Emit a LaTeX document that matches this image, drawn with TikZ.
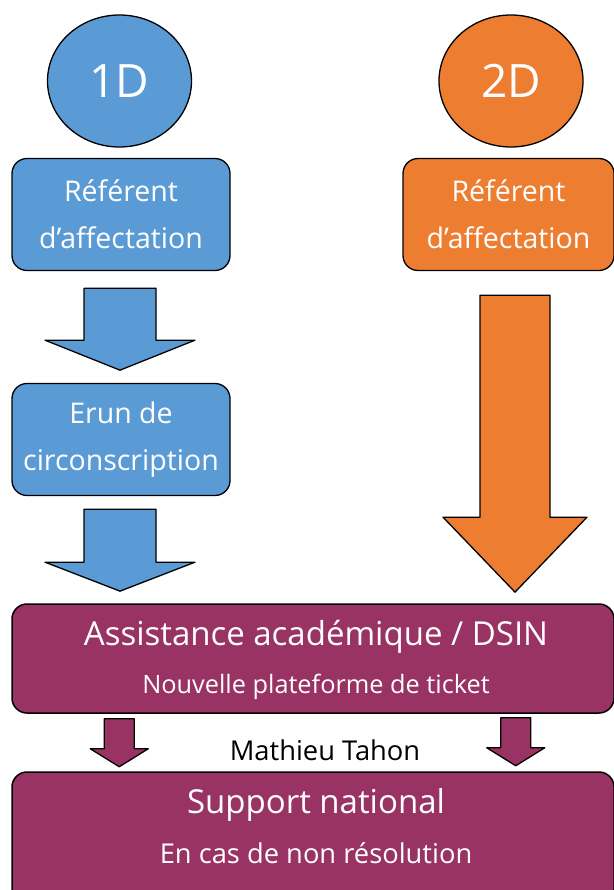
\documentclass[tikz,border=0pt]{standalone}
\usepackage{fontspec}
\setmainfont{Open Sans}
\usetikzlibrary{calc,shapes.geometric}
\definecolor{bleuD}{RGB}{91,155,213}
\definecolor{orangeD}{RGB}{237,125,49}
\definecolor{violetD}{RGB}{153,51,99}
\begin{document}
\begin{tikzpicture}[x=1pt,y=-1pt,line join=round,
	rond/.style={ellipse,draw,line width=1.3pt,minimum width=144pt,minimum height=132pt,text=white,font=\fontsize{46}{46}\selectfont},
	boite/.style={draw,rounded corners=15pt,line width=1.3pt,minimum width=218pt,minimum height=112pt,text=white,align=center,font=\fontsize{28.5}{47}\selectfont},
	grande/.style={draw,rounded corners=15pt,line width=1.5pt,minimum width=602pt,fill=violetD},
	blanc/.style={text=white,anchor=base,inner sep=0pt}]
	\useasboundingbox (0,0) rectangle (613,890);
	% colonnes 1D et 2D
	\node[rond,fill=bleuD] (un) at (119.5,81) {1D};
	\node[rond,fill=orangeD] (deux) at (511,81) {2D};
	\node[boite,fill=bleuD] (ref1) at (121,214.5) {Référent\\d’affectation};
	\node[boite,fill=orangeD,minimum width=211pt] (ref2) at (508.5,214.5) {Référent\\d’affectation};
	\node[boite,fill=bleuD] (erun) at (121,439.5) {Erun de\\circonscription};
	% blocs du bas
	\node[grande,minimum height=109pt] (acad) at (313,658.5) {};
	\node[blanc,font=\fontsize{33}{33}\selectfont] (acad1) at (316,645) {Assistance académique / DSIN};
	\node[blanc,font=\fontsize{25.3}{25.3}\selectfont] (acad2) at (316,693) {Nouvelle plateforme de ticket};
	\node[grande,minimum height=132pt] (nat) at (313,838) {};
	\node[blanc,font=\fontsize{33}{33}\selectfont] (nat1) at (316,813) {Support national};
	\node[blanc,font=\fontsize{27.3}{27.3}\selectfont] (nat2) at (316,863) {En cas de non résolution};
	\node[anchor=base,inner sep=0pt,font=\fontsize{27.3}{27.3}\selectfont] (mt) at (325,760) {Mathieu Tahon};
	% grosses fleches
	\coordinate (f1) at ($(ref1.south)+(-1,17)$);
	\coordinate (f2) at ($(erun.south)+(-1,13)$);
	\coordinate (f3) at ($(ref2.south)+(6.5,24)$);
	\coordinate (f4) at ($(acad.south west)+(108,5)$);
	\coordinate (f5) at ($(acad.south east)+(-99,4)$);
	\foreach \s/\w/\l/\h/\t/\c in {f1/36/52/75/30/bleuD,f2/36/53/75/29/bleuD,f3/35/222/72/75/orangeD,f4/15/30/29/18/violetD,f5/15/30/29/18/violetD}{
		\draw[fill=\c,line width=1.3pt] (\s) ++(-\w,0) -- ++(0,\l) -- ++({\w-\h},0) -- ++(\h,\t) -- ++(\h,-\t) -- ++({\w-\h},0) -- ++(0,-\l) -- cycle;}
\end{tikzpicture}
\end{document}
